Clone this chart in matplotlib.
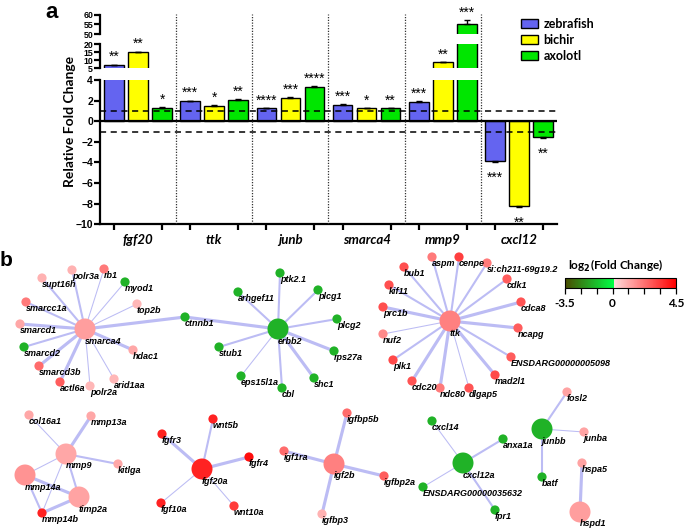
import matplotlib
matplotlib.use('Agg')
import matplotlib.pyplot as plt
import numpy as np
from matplotlib.colors import LinearSegmentedColormap, Normalize
from matplotlib.patches import Circle, Patch
from matplotlib.cm import ScalarMappable

# ---- panel a data ----
genes = ['fgf20', 'ttk', 'junb', 'smarca4', 'mmp9', 'cxcl12']
species = ['zebrafish', 'bichir', 'axolotl']
zebrafish = [6.9, 1.95, 1.25, 1.6, 1.9, -3.9]
bichir = [14.8, 1.5, 2.3, 1.25, 8.7, -8.2]
axolotl = [1.3, 2.05, 3.35, 1.25, 55.5, -1.55]
zebrafish_err = [0.3, 0.05, 0.05, 0.05, 0.05, 0.08]
bichir_err = [0.5, 0.05, 0.05, 0.05, 0.3, 0.15]
axolotl_err = [0.08, 0.08, 0.05, 0.05, 1.8, 0.08]
zebrafish_sig = ['**', '***', '****', '***', '***', '***']
bichir_sig = ['**', '*', '***', '*', '**', '**']
axolotl_sig = ['*', '**', '****', '**', '***', '**']

# ---- panel b data ----
node_names = ['smarca4', 'supt16h', 'polr3a', 'rb1', 'myod1', 'top2b', 'smarcc1a', 'smarcd1',
              'smarcd2', 'smarcd3b', 'actl6a', 'polr2a', 'arid1aa', 'hdac1', 'ctnnb1',
              'erbb2', 'ptk2.1', 'arhgef11', 'plcg1', 'plcg2', 'rps27a', 'shc1', 'cbl',
              'eps15l1a', 'stub1',
              'ttk', 'bub1', 'aspm', 'cenpe', 'si:ch211-69g19.2', 'cdk1', 'cdca8', 'ncapg',
              'ENSDARG00000005098', 'mad2l1', 'dlgap5', 'ndc80', 'cdc20', 'plk1', 'nuf2',
              'prc1b', 'kif11',
              'mmp9', 'col16a1', 'mmp13a', 'kitlga', 'mmp14a', 'timp2a', 'mmp14b',
              'fgf20a', 'fgfr3', 'wnt5b', 'fgfr4', 'fgf10a', 'wnt10a',
              'igf2b', 'igfbp5b', 'igf1ra', 'igfbp2a', 'igfbp3',
              'cxcl12a', 'cxcl14', 'anxa1a', 'ENSDARG00000035632', 'fpr1',
              'junbb', 'fosl2', 'junba', 'batf', 'hspa5', 'hspd1']
node_fc = [1.3, 0.9, 0.9, 2.0, -1.5, 0.8, 2.0, 1.1, -1.5, 2.3, 2.6, 0.8, 0.8, 1.1, -1.5,
           -1.5, -1.5, -1.5, -1.5, -1.5, -1.5, -1.5, -1.5, -1.5, -1.5,
           1.9, 2.9, 2.0, 3.2, 2.0, 2.6, 2.8, 2.6, 2.6, 3.0, 2.8, 2.0, 2.8, 3.0, 1.7, 2.9, 2.9,
           1.1, 1.1, 1.1, 1.1, 1.5, 1.2, 3.8,
           3.8, 3.8, 3.8, 4.2, 3.8, 3.3,
           1.9, 2.3, 2.3, 2.6, 0.9,
           -1.5, -1.5, -1.5, -1.5, -1.5,
           -1.5, 1.2, 1.2, -1.5, 1.2, 1.3]
node_x = [85, 42, 72, 104, 125, 137, 26, 20, 24, 39, 60, 90, 114, 133, 185,
          278, 280, 238, 318, 337, 334, 314, 282, 241, 219,
          450, 404, 432, 459, 487, 507, 521, 518, 511, 495, 469, 440, 412, 393, 383, 383, 389,
          66, 29, 91, 118, 25, 79, 42,
          202, 162, 213, 249, 161, 234,
          334, 347, 284, 384, 322,
          463, 432, 503, 423, 495,
          542, 567, 584, 542, 582, 580]
node_y = [329, 278, 270, 269, 282, 304, 302, 324, 347, 366, 382, 386, 379, 350, 317,
          329, 273, 292, 290, 319, 351, 378, 388, 376, 347,
          321, 267, 257, 257, 263, 279, 302, 328, 357, 375, 388, 388, 381, 360, 334, 307, 285,
          454, 415, 416, 464, 475, 497, 513,
          469, 434, 419, 457, 503, 506,
          464, 413, 451, 476, 514,
          463, 421, 439, 487, 510,
          429, 392, 432, 477, 463, 512]
hub_nodes = ['smarca4', 'erbb2', 'ttk', 'mmp9', 'mmp14a', 'timp2a', 'fgf20a', 'igf2b',
             'cxcl12a', 'junbb', 'hspd1']

edges = [('smarca4', 'supt16h', 2), ('smarca4', 'polr3a', 2), ('smarca4', 'rb1', 1),
         ('smarca4', 'myod1', 1), ('smarca4', 'top2b', 1), ('smarca4', 'smarcc1a', 2),
         ('smarca4', 'smarcd1', 3), ('smarca4', 'smarcd2', 2), ('smarca4', 'smarcd3b', 3),
         ('smarca4', 'actl6a', 3), ('smarca4', 'polr2a', 1), ('smarca4', 'arid1aa', 1),
         ('smarca4', 'hdac1', 3), ('smarca4', 'ctnnb1', 3), ('ctnnb1', 'erbb2', 3),
         ('erbb2', 'ptk2.1', 2), ('erbb2', 'arhgef11', 2), ('erbb2', 'plcg1', 2),
         ('erbb2', 'plcg2', 2), ('erbb2', 'rps27a', 3), ('erbb2', 'shc1', 3),
         ('erbb2', 'cbl', 2), ('erbb2', 'eps15l1a', 1), ('erbb2', 'stub1', 2),
         ('ttk', 'bub1', 2), ('ttk', 'aspm', 2), ('ttk', 'cenpe', 2),
         ('ttk', 'si:ch211-69g19.2', 2), ('ttk', 'cdk1', 2), ('ttk', 'cdca8', 3),
         ('ttk', 'ncapg', 3), ('ttk', 'ENSDARG00000005098', 2), ('ttk', 'mad2l1', 3),
         ('ttk', 'dlgap5', 1), ('ttk', 'ndc80', 3), ('ttk', 'cdc20', 3), ('ttk', 'plk1', 2),
         ('ttk', 'nuf2', 1), ('ttk', 'prc1b', 3), ('ttk', 'kif11', 2),
         ('mmp9', 'col16a1', 1), ('mmp9', 'mmp13a', 3), ('mmp9', 'kitlga', 2),
         ('mmp9', 'mmp14a', 1), ('mmp9', 'timp2a', 2), ('mmp9', 'mmp14b', 1),
         ('mmp14a', 'timp2a', 3), ('mmp14a', 'mmp14b', 2), ('timp2a', 'mmp14b', 3),
         ('fgf20a', 'fgfr3', 3), ('fgf20a', 'wnt5b', 2), ('fgf20a', 'fgfr4', 3),
         ('fgf20a', 'fgf10a', 1), ('fgf20a', 'wnt10a', 1),
         ('igf2b', 'igfbp5b', 3), ('igf2b', 'igf1ra', 3), ('igf2b', 'igfbp2a', 3),
         ('igf2b', 'igfbp3', 3),
         ('cxcl12a', 'cxcl14', 1), ('cxcl12a', 'anxa1a', 2),
         ('cxcl12a', 'ENSDARG00000035632', 1), ('cxcl12a', 'fpr1', 2),
         ('junbb', 'fosl2', 2), ('junbb', 'junba', 1), ('junbb', 'batf', 2),
         ('hspa5', 'hspd1', 3)]

W, H = 684, 531
fig = plt.figure(figsize=(W / 100, H / 100), dpi=100)


def px_axes(x0, y0, x1, y1, **kw):
    return fig.add_axes([x0 / W, 1 - y1 / H, (x1 - x0) / W, (y1 - y0) / H], **kw)


# ================= panel a =================
colors = ['#6464f0', '#ffff00', '#00e600']
values = [zebrafish, bichir, axolotl]
errors = [zebrafish_err, bichir_err, axolotl_err]
sigs = [zebrafish_sig, bichir_sig, axolotl_sig]
offsets = [-0.315, 0.0, 0.315]
x = np.arange(len(genes))

ax_lo = px_axes(100, 80, 557, 224.3)
ax_mid = px_axes(100, 44, 557, 68.3)
ax_hi = px_axes(100, 15, 557, 34)
ax_lo.set_ylim(-10, 4)
ax_mid.set_ylim(5, 20)
ax_hi.set_ylim(50, 60)

for ax in (ax_lo, ax_mid, ax_hi):
    ax.set_xlim(-0.5, 5.5)
    ax.patch.set_alpha(0)
    for i in range(3):
        v = np.array(values[i])
        e = np.array(errors[i])
        ax.bar(x + offsets[i], v, width=0.26, color=colors[i], edgecolor='black',
               linewidth=1.0, zorder=2)
        lower = np.where(v < 0, e, 0)
        upper = np.where(v > 0, e, 0)
        ax.errorbar(x + offsets[i], v, yerr=[lower, upper], fmt='none', ecolor='black',
                    elinewidth=1.0, capsize=2.5, capthick=1.0, zorder=3)
    for s in ['top', 'right']:
        ax.spines[s].set_visible(False)
    ax.spines['left'].set_linewidth(1.6)
    ax.tick_params(axis='y', direction='out', length=4, width=1.6, pad=1)

ax_lo.set_yticks(np.arange(-10, 5, 2))
ax_mid.set_yticks([5, 10, 15, 20])
ax_hi.set_yticks([50, 55, 60])
for lab in ax_lo.get_yticklabels():
    lab.set(family='Liberation Sans', weight='bold', size=7.5)
for ax in (ax_mid, ax_hi):
    for lab in ax.get_yticklabels():
        lab.set(family='Liberation Sans', weight='bold', size=6.3)

for ax in (ax_mid, ax_hi):
    ax.spines['bottom'].set_visible(False)
    ax.set_xticks([])

ax_lo.spines['bottom'].set_linewidth(1.6)
ax_lo.axhline(0, color='black', lw=1.6, zorder=4)
ax_lo.axhline(1, color='black', lw=1.1, ls=(0, (4, 3)), zorder=5)
ax_lo.axhline(-1, color='black', lw=1.1, ls=(0, (4, 3)), zorder=5)
ax_lo.set_xticks(x)
ax_lo.set_xticklabels(genes, fontsize=9.5, fontweight='bold', fontstyle='italic',
                      family='Lato')
ax_lo.set_xticks(np.concatenate([x + o for o in offsets]), minor=True)
ax_lo.tick_params(axis='x', which='major', length=0, pad=7)
ax_lo.tick_params(axis='x', which='minor', direction='out', length=4, width=1.6)

# group separators
ax_sep = px_axes(100, 14, 557, 224.3)
ax_sep.set_xlim(-0.5, 5.5)
ax_sep.set_ylim(0, 1)
ax_sep.axis('off')
ax_sep.vlines(np.arange(0.5, 5, 1), 0, 1, colors='#333333', linestyles=(0, (1, 1.2)), lw=0.9)


def axis_for(v):
    if v > 20:
        return ax_hi
    if v > 4:
        return ax_mid
    return ax_lo


for i in range(3):
    for j in range(len(genes)):
        v = values[i][j]
        e = errors[i][j]
        ax = axis_for(v)
        if v > 0:
            ax.annotate(sigs[i][j], xy=(x[j] + offsets[i], v + e), xytext=(0, 2.5),
                        textcoords='offset points', ha='center', va='baseline',
                        fontsize=10, family='Liberation Sans', annotation_clip=False)
        else:
            ax.annotate(sigs[i][j], xy=(x[j] + offsets[i], v - e), xytext=(0, -14),
                        textcoords='offset points', ha='center', va='baseline',
                        fontsize=10, family='Liberation Sans', annotation_clip=False)

fig.text(70 / W, 1 - 121 / H, 'Relative Fold Change', rotation=90, ha='center', va='center',
         fontsize=10, fontweight='bold', family='Lato')

handles = [Patch(facecolor=c, edgecolor='black', linewidth=1.0) for c in colors]
fig.legend(handles, species, loc='upper left', bbox_to_anchor=(510 / W, 1 - 7 / H),
           frameon=False, prop=dict(family='Lato', weight='bold', size=9),
           handlelength=1.3, handleheight=0.75, handletextpad=0.5, labelspacing=0.3)

fig.text(45 / W, 1 - 12 / H, 'a', fontsize=16, fontweight='bold', family='Liberation Sans',
         va='center', ha='left')
fig.text(0 / W, 1 - 261 / H, 'b', fontsize=15, fontweight='bold', family='Liberation Sans',
         va='center', ha='left')

# ================= panel b =================
cmap = LinearSegmentedColormap.from_list(
    'fc', [(0.0, '#4a4a00'), (0.4375, '#00ff44'), (0.4376, '#ffdede'), (1.0, '#ff0000')])
norm = Normalize(-3.5, 4.5)

ax_net = fig.add_axes([0, 0, 1, 1], zorder=-1)
ax_net.set_xlim(0, W)
ax_net.set_ylim(H, 0)
ax_net.axis('off')

pos = {n: (node_x[k], node_y[k]) for k, n in enumerate(node_names)}
for a, b, w in edges:
    ax_net.plot([pos[a][0], pos[b][0]], [pos[a][1], pos[b][1]], color='#bcbcf4',
                lw=0.75 * w, solid_capstyle='butt', zorder=1)

for k, n in enumerate(node_names):
    r = 10.5 if n in hub_nodes else 4.6
    ax_net.add_patch(Circle(pos[n], r, facecolor=cmap(norm(node_fc[k])), edgecolor='none',
                            zorder=2))
    ax_net.text(pos[n][0], pos[n][1] + r + 1.5, n, ha='left', va='center', fontsize=6.5,
                fontweight='bold', fontstyle='italic', family='Liberation Sans', zorder=3)

cax = px_axes(565, 278, 676, 288)
cb = fig.colorbar(ScalarMappable(norm=norm, cmap=cmap), cax=cax, orientation='horizontal')
cb.outline.set_linewidth(0.8)
cb_ticks = np.linspace(-3.5, 4.5, 8)
cb.set_ticks(cb_ticks)
cb.set_ticklabels(['-3.5', '', '', '0', '', '', '', '4.5'])
cax.tick_params(length=4, width=0.9, pad=3)
for lab in cax.get_xticklabels():
    lab.set(family='Lato', weight='bold', size=8.5)
fig.text(616 / W, 1 - 266 / H, r'log$_\mathbf{2}$(Fold Change)', ha='center', va='center',
         fontsize=8.5, fontweight='bold', family='Lato')

fig.savefig('out.png', dpi=100)
